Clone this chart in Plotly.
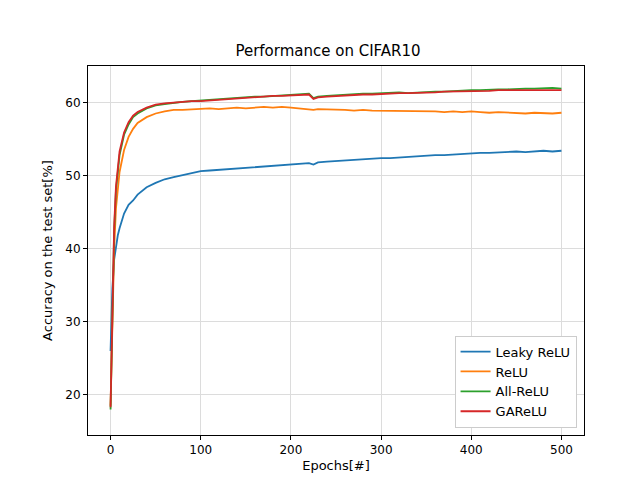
import plotly.graph_objects as go

epochs = [0, 2, 4, 6, 8, 10, 15, 20, 25, 30, 40, 50, 60, 70, 80, 90, 100,
          110, 120, 130, 140, 150, 160, 170, 180, 190, 200, 210, 220, 225, 230,
          240, 250, 260, 270, 280, 290, 300, 310, 320, 330, 340, 350, 360, 370,
          380, 390, 400, 410, 420, 430, 440, 450, 460, 470, 480, 490, 500]

leaky = [26.0, 34.5, 38.5, 40.5, 41.8, 42.8, 44.8, 46.0, 46.6, 47.4, 48.4, 49.0,
         49.5, 49.8, 50.1, 50.3, 50.6, 50.7, 50.8, 50.9, 51.0, 51.1, 51.2, 51.3,
         51.4, 51.5, 51.6, 51.6, 51.7, 51.5, 51.8, 51.9, 52.0, 52.1, 52.1, 52.2,
         52.3, 52.4, 52.4, 52.5, 52.6, 52.6, 52.7, 52.8, 52.8, 52.9, 53.0, 53.0,
         53.1, 53.1, 53.2, 53.2, 53.3, 53.2, 53.3, 53.4, 53.3, 53.4]
relu = [18.5, 31.0, 40.0, 45.5, 48.5, 50.5, 53.5, 55.3, 56.4, 57.2, 58.0, 58.5,
        58.8, 59.0, 59.0, 59.1, 59.1, 59.2, 59.1, 59.2, 59.3, 59.2, 59.3, 59.4,
        59.3, 59.4, 59.3, 59.2, 59.1, 59.0, 59.1, 59.1, 59.0, 59.0, 58.9, 59.0,
        58.9, 58.9, 58.8, 58.9, 58.8, 58.8, 58.9, 58.8, 58.7, 58.8, 58.7, 58.8,
        58.7, 58.6, 58.7, 58.6, 58.6, 58.5, 58.6, 58.5, 58.5, 58.6]
allrelu = [18.0, 33.0, 42.5, 48.0, 51.0, 52.8, 55.6, 57.0, 58.0, 58.5, 59.2, 59.6,
           59.8, 60.0, 60.1, 60.2, 60.3, 60.3, 60.4, 60.5, 60.6, 60.7, 60.8, 60.8,
           60.9, 61.0, 61.0, 61.1, 61.2, 60.6, 60.8, 60.9, 61.0, 61.0, 61.1, 61.2,
           61.2, 61.3, 61.3, 61.4, 61.3, 61.4, 61.5, 61.5, 61.5, 61.6, 61.6, 61.7,
           61.7, 61.8, 61.8, 61.8, 61.9, 61.9, 61.9, 62.0, 62.0, 61.9]
garelu = [18.3, 33.5, 43.0, 48.5, 51.5, 53.3, 55.9, 57.3, 58.2, 58.7, 59.3, 59.7,
          59.9, 60.0, 60.1, 60.2, 60.2, 60.3, 60.4, 60.5, 60.6, 60.6, 60.7, 60.8,
          60.9, 60.9, 61.0, 61.0, 61.1, 60.5, 60.7, 60.8, 60.9, 61.0, 61.0, 61.1,
          61.1, 61.2, 61.2, 61.3, 61.3, 61.3, 61.4, 61.4, 61.5, 61.5, 61.5, 61.6,
          61.6, 61.6, 61.7, 61.7, 61.7, 61.8, 61.7, 61.8, 61.8, 61.7]

series = [("Leaky ReLU", leaky, "#1f77b4"), ("ReLU", relu, "#ff7f0e"),
          ("All-ReLU", allrelu, "#2ca02c"), ("GAReLU", garelu, "#d62728")]

fig = go.Figure()
for name, vals, col in series:
    fig.add_trace(go.Scatter(x=epochs, y=vals, name=name, mode="lines",
                             line=dict(color=col, width=1.8)))

axis = dict(showline=True, linecolor="black", mirror=True, ticks="outside",
            ticklen=4, tickcolor="black", showgrid=True, gridcolor="#dcdcdc",
            zeroline=False, automargin=False, tickfont=dict(size=12, color="black"))
fig.update_layout(
    width=640, height=480, template="none",
    paper_bgcolor="white", plot_bgcolor="white",
    font=dict(family="DejaVu Sans", color="black"),
    title=dict(text="Performance on CIFAR10", x=0.5, y=0.91, xanchor="center",
               yanchor="middle", font=dict(size=15)),
    margin=dict(l=80, r=64, t=58, b=53, autoexpand=False),
    xaxis=dict(axis, range=[-25, 525], tickvals=[0, 100, 200, 300, 400, 500],
               title=dict(text="Epochs[#]", font=dict(size=13), standoff=4)),
    yaxis=dict(axis, range=[14.5, 65], tickvals=[20, 30, 40, 50, 60],
               title=dict(text="Accuracy on the test set[%]", font=dict(size=13))),
    legend=dict(x=0.985, y=0.02, xanchor="right", yanchor="bottom",
                bordercolor="#cccccc", borderwidth=1, bgcolor="white",
                font=dict(size=13)),
)
fig.write_html("out.html")
